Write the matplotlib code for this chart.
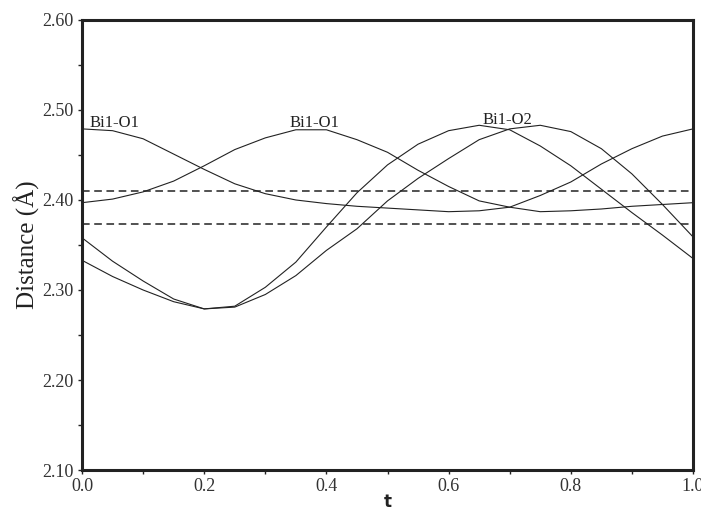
import numpy as np
import matplotlib
matplotlib.use("Agg")
import matplotlib.pyplot as plt
from matplotlib.ticker import MultipleLocator, FormatStrFormatter

# values (t step 0.05)
t = [0.00, 0.05, 0.10, 0.15, 0.20, 0.25, 0.30, 0.35, 0.40, 0.45, 0.50,
     0.55, 0.60, 0.65, 0.70, 0.75, 0.80, 0.85, 0.90, 0.95, 1.00]

bi1_o1_a = [2.479, 2.477, 2.468, 2.451, 2.434, 2.418, 2.407, 2.400, 2.396, 2.393, 2.391,
            2.389, 2.387, 2.388, 2.392, 2.405, 2.420, 2.440, 2.457, 2.471, 2.479]
bi1_o1_b = [2.397, 2.401, 2.409, 2.421, 2.438, 2.456, 2.469, 2.478, 2.478, 2.467, 2.453,
            2.433, 2.415, 2.399, 2.392, 2.387, 2.388, 2.390, 2.393, 2.395, 2.397]
bi1_o2_a = [2.358, 2.332, 2.310, 2.290, 2.279, 2.282, 2.303, 2.331, 2.370, 2.408, 2.439,
            2.462, 2.477, 2.483, 2.478, 2.460, 2.438, 2.412, 2.386, 2.361, 2.335]
bi1_o2_b = [2.333, 2.315, 2.300, 2.287, 2.279, 2.281, 2.295, 2.316, 2.344, 2.368, 2.399,
            2.424, 2.446, 2.467, 2.479, 2.483, 2.476, 2.457, 2.429, 2.395, 2.359]

ref_lines = [2.410, 2.373]

labels = ["Bi1-O1", "Bi1-O1", "Bi1-O2"]
label_pos = [(0.013, 2.481), (0.34, 2.481), (0.655, 2.4845)]

serif = ["Liberation Serif", "DejaVu Serif"]

fig = plt.figure(figsize=(7.01, 5.12), dpi=100)
ax = fig.add_axes([0.117, 0.082, 0.8716, 0.879])

for ys in [bi1_o1_a, bi1_o1_b, bi1_o2_a, bi1_o2_b]:
    ax.plot(t, ys, color="#222222", lw=0.8)

for y in ref_lines:
    ax.axhline(y, color="#222222", lw=1.1, dashes=(5, 3))

for txt, (x, y) in zip(labels, label_pos):
    ax.text(x, y, txt, family=serif, fontsize=12, color="#222222",
            ha="left", va="baseline")

ax.set_xlim(0, 1)
ax.set_ylim(2.10, 2.60)
ax.xaxis.set_major_locator(MultipleLocator(0.2))
ax.xaxis.set_minor_locator(MultipleLocator(0.1))
ax.yaxis.set_major_locator(MultipleLocator(0.1))
ax.yaxis.set_minor_locator(MultipleLocator(0.05))
ax.xaxis.set_major_formatter(FormatStrFormatter("%.1f"))
ax.yaxis.set_major_formatter(FormatStrFormatter("%.2f"))

ax.tick_params(which="both", direction="out", length=3, width=1, color="#222222",
               labelsize=13, labelcolor="#333333", pad=3)
for lab in ax.get_xticklabels() + ax.get_yticklabels():
    lab.set_family(serif)

for s in ax.spines.values():
    s.set_linewidth(2.2)
    s.set_color("#222222")

ax.set_ylabel("Distance (Å)", family=serif, fontsize=18, color="#222222", labelpad=2)
ax.set_xlabel("t", fontsize=12, fontweight="bold", color="#222222", labelpad=-2)

fig.savefig("out.png", dpi=100)
